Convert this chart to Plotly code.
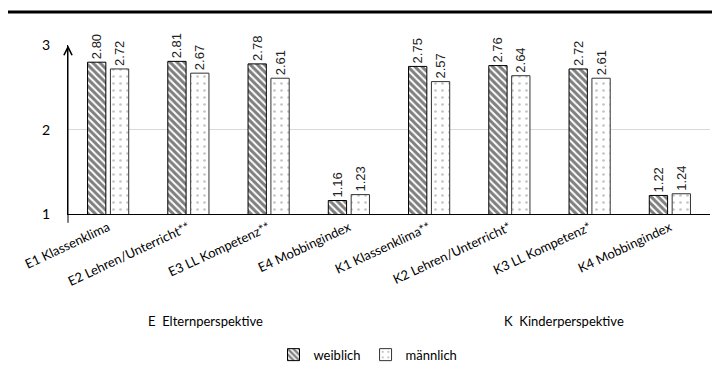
import plotly.graph_objects as go

categories = ["E1 Klassenklima", "E2 Lehren/Unterricht**", "E3 LL Kompetenz**", "E4 Mobbingindex",
              "K1 Klassenklima**", "K2 Lehren/Unterricht*", "K3 LL Kompetenz*", "K4 Mobbingindex"]
weiblich = [2.80, 2.81, 2.78, 1.16, 2.75, 2.76, 2.72, 1.22]
maennlich = [2.72, 2.67, 2.61, 1.23, 2.57, 2.64, 2.61, 1.24]
groups = ["E\u00a0\u00a0Elternperspektive", "K\u00a0\u00a0Kinderperspektive"]
y_ticks = [1, 2, 3]

W, H = 720, 374
L, R, T, B = 60, 18, 37, 158
ph = H - T - B
pw = W - L - R

def px_x(p):
    return (p - L) / pw

def px_y(p):
    return (H - B - p) / ph

fig = go.Figure()
fig.add_trace(go.Bar(
    x=categories, y=weiblich, name="weiblich",
    marker=dict(color="white", line=dict(color="black", width=1),
                pattern=dict(shape="\\", fgcolor="black", bgcolor="white", size=5, solidity=0.6)),
    text=[f"{v:.2f}" for v in weiblich], textposition="outside", textangle=-90,
    constraintext="none",
    textfont=dict(family="Liberation Sans", size=13, color="#222222"), cliponaxis=False,
))
fig.add_trace(go.Bar(
    x=categories, y=maennlich, name="männlich",
    marker=dict(color="white", line=dict(color="#333333", width=1),
                pattern=dict(shape=".", fgcolor="#8a8a8a", bgcolor="white", size=7, solidity=0.12)),
    text=[f"{v:.2f}" for v in maennlich], textposition="outside", textangle=-90,
    constraintext="none",
    textfont=dict(family="Liberation Sans", size=13, color="#222222"), cliponaxis=False,
))

fig.update_layout(
    width=W, height=H, margin=dict(l=L, r=R, t=T, b=B),
    paper_bgcolor="white", plot_bgcolor="white",
    barmode="group", bargap=0.43, bargroupgap=0.2,
    font=dict(family="Lato", size=13, color="black"),
    showlegend=True,
    legend=dict(orientation="h", x=px_x(360), xanchor="center",
                y=px_y(365), yanchor="middle",
                font=dict(family="Lato", size=13), itemwidth=30, tracegroupgap=0),
    xaxis=dict(tickangle=-25, showline=True, linecolor="black", linewidth=1.2,
               ticks="", tickfont=dict(family="Lato", size=13)),
    yaxis=dict(range=[1, 3.004], tickvals=y_ticks, showline=True, linecolor="black", linewidth=1.2,
               showgrid=True, gridcolor="#d9d9d9", gridwidth=1, zeroline=False,
               ticks="", ticklabelstandoff=14, tickfont=dict(family="Lato", size=14)),
)

# y-axis arrow
fig.add_annotation(x=0, xref="paper", y=3, yref="y", ax=0, ay=ph, axref="pixel", ayref="pixel",
                   showarrow=True, arrowhead=5, arrowsize=1.6, arrowwidth=1, arrowcolor="black",
                   text="", standoff=0)

# group labels
for g, cx in zip(groups, [197, 556]):
    fig.add_annotation(x=px_x(cx), xref="paper", y=px_y(329), yref="paper",
                       text=g, showarrow=False, font=dict(family="Lato", size=13),
                       xanchor="center", yanchor="middle")

# top border line
fig.add_shape(type="line", xref="paper", yref="paper",
              x0=px_x(0), x1=px_x(W), y0=px_y(2), y1=px_y(2),
              line=dict(color="black", width=3))

fig.write_html("out.html")
